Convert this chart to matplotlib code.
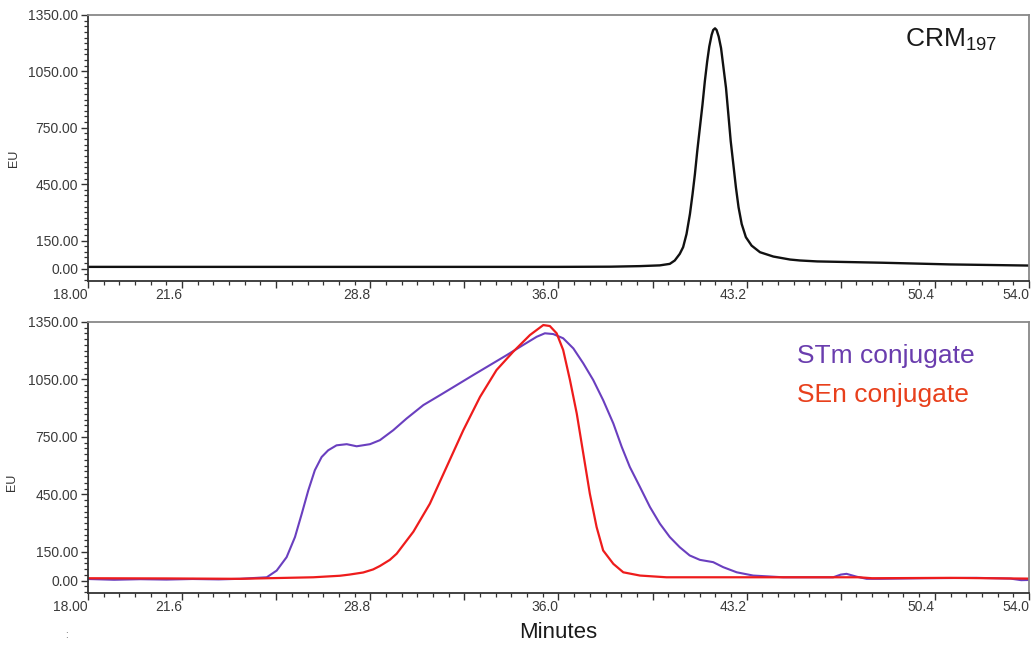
import matplotlib
matplotlib.use('Agg')
import matplotlib.pyplot as plt
from matplotlib.ticker import MultipleLocator, FixedLocator

plt.rcParams['font.family'] = ['Liberation Sans', 'DejaVu Sans']
plt.rcParams['mathtext.fontset'] = 'custom'
plt.rcParams['mathtext.rm'] = 'Liberation Sans'

# CRM197 trace (minutes, EU)
crm_t = [18.0, 24.0, 30.0, 36.0, 38.0, 39.12, 39.88, 40.26, 40.45, 40.64, 40.77, 40.90,
         41.03, 41.13, 41.22, 41.31, 41.41, 41.51, 41.60, 41.69, 41.77, 41.86, 41.92,
         41.99, 42.05, 42.13, 42.22, 42.30, 42.41, 42.50, 42.59, 42.69, 42.79, 42.89,
         43.01, 43.17, 43.39, 43.71, 44.22, 44.86, 45.24, 45.90, 48.40, 51.00, 54.00]
crm_eu = [10, 10, 10, 10, 11, 14, 18, 26, 44, 79, 115, 185,
          291, 397, 503, 626, 750, 873, 997, 1103, 1182, 1244, 1270,
          1279, 1270, 1235, 1174, 1085, 962, 821, 679, 556, 432, 327,
          238, 168, 123, 88, 65, 49, 44, 39, 32, 23, 17]

# STm conjugate trace
stm_t = [18.0, 19.0, 20.0, 21.0, 22.0, 23.0, 23.81, 24.84, 25.22, 25.60, 25.92, 26.18,
         26.43, 26.68, 26.94, 27.19, 27.51, 27.90, 28.28, 28.79, 29.17, 29.68, 30.19,
         30.83, 31.47, 32.10, 32.74, 33.38, 34.02, 34.65, 35.17, 35.48, 35.80, 36.18,
         36.57, 36.95, 37.33, 37.71, 38.10, 38.42, 38.73, 39.12, 39.50, 39.88, 40.26,
         40.64, 41.02, 41.41, 41.92, 42.30, 42.82, 43.45, 44.60, 46.51, 46.80, 47.02,
         47.41, 47.79, 48.30, 50.0, 52.0, 53.3, 53.7, 54.0]
stm_eu = [8, 4, 7, 5, 8, 6, 9, 17, 52, 122, 227, 349,
          471, 576, 645, 680, 706, 712, 701, 712, 733, 785, 846,
          916, 968, 1020, 1073, 1125, 1177, 1230, 1273, 1291, 1287, 1265,
          1212, 1134, 1047, 942, 820, 698, 593, 488, 384, 297, 227,
          174, 131, 108, 96, 70, 43, 26, 17, 17, 31, 35,
          20, 9, 9, 12, 14, 10, 2, 3]

# SEn conjugate trace
sen_t = [18.0, 21.0, 23.81, 26.62, 27.64, 28.0, 28.53, 28.91, 29.17, 29.55, 29.81,
         30.45, 31.08, 31.72, 32.36, 33.00, 33.63, 34.27, 34.91, 35.42, 35.67, 35.93,
         36.18, 36.44, 36.70, 36.95, 37.20, 37.46, 37.71, 38.10, 38.48, 39.12, 40.13,
         44.0, 47.5, 48.0, 51.0, 54.0]
sen_eu = [12, 11, 9, 17, 25, 31, 42, 58, 76, 108, 140,
          255, 401, 593, 785, 959, 1099, 1195, 1282, 1334, 1329, 1291,
          1204, 1047, 872, 663, 454, 279, 157, 87, 43, 26, 17,
          17, 17, 12, 14, 10]

x_ticks = [18.0, 21.6, 25.2, 28.8, 32.4, 36.0, 39.6, 43.2, 46.8, 50.4, 54.0]
x_labels = ['18.00', '21.6', '', '28.8', '', '36.0', '', '43.2', '', '50.4', '54.0']
y_ticks = [0, 150, 450, 750, 1050, 1350]

fig = plt.figure(figsize=(10.36, 6.48), dpi=100)
ax1 = fig.add_axes([0.0849, 0.5664, 0.9083, 0.4105])
ax2 = fig.add_axes([0.0849, 0.0849, 0.9083, 0.4182])

ax1.plot(crm_t, crm_eu, color='#111111', lw=1.7)
ax2.plot(stm_t, stm_eu, color='#6A3FBF', lw=1.5)
ax2.plot(sen_t, sen_eu, color='#EE1C1C', lw=1.6)

for ax in (ax1, ax2):
    ax.set_xlim(18, 54)
    ax.set_ylim(-65, 1350)
    ax.xaxis.set_major_locator(FixedLocator(x_ticks))
    ax.set_xticklabels(x_labels)
    ax.xaxis.set_minor_locator(MultipleLocator(0.6))
    ax.set_yticks(y_ticks)
    ax.set_yticklabels([f'{v:.2f}' for v in y_ticks])
    ax.yaxis.set_minor_locator(MultipleLocator(30))
    ax.tick_params(axis='both', which='major', labelsize=10, labelcolor='#3a3a3a',
                   color='#333333', width=1.0)
    ax.tick_params(axis='x', which='major', length=5, pad=0)
    ax.tick_params(axis='y', which='major', length=5, pad=2)
    ax.tick_params(which='minor', length=3, color='#333333', width=0.9)
    for lab in ax.get_xticklabels():
        lab.set_ha('right')
    ax.spines['left'].set_color('#333333')
    ax.spines['bottom'].set_color('#333333')
    ax.spines['top'].set_color('#888888')
    ax.spines['right'].set_color('#888888')
    for s in ax.spines.values():
        s.set_linewidth(1.3)
    ax.set_ylabel('EU', fontsize=9, color='#333333')

ax1.yaxis.set_label_coords(-0.072, 0.462)
ax2.yaxis.set_label_coords(-0.074, 0.41)

ax1.text(0.868, 0.905, r'CRM$_{\mathregular{197}}$', transform=ax1.transAxes,
         fontsize=19, color='#1a1a1a', va='center', ha='left')
ax2.text(0.754, 0.875, 'STm conjugate', transform=ax2.transAxes,
         fontsize=19, color='#6A3DAE', va='center', ha='left')
ax2.text(0.754, 0.73, 'SEn conjugate', transform=ax2.transAxes,
         fontsize=19, color='#E8401C', va='center', ha='left')
ax2.set_xlabel('Minutes', fontsize=16, color='#1a1a1a', labelpad=6)
fig.text(0.063, 0.015, ':', fontsize=7, color='#555555')

fig.savefig('out.png', dpi=100)
